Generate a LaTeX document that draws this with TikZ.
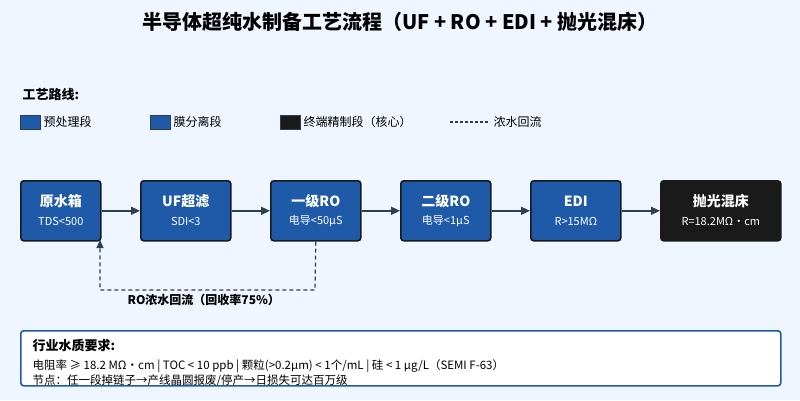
\documentclass[tikz,border=0pt]{standalone}
\usepackage{fontspec}
\setmainfont{Noto Sans CJK SC}
\usetikzlibrary{arrows.meta}
\definecolor{bg}{HTML}{F0F6FF}
\definecolor{bl}{HTML}{1E5AA8}
\definecolor{dk}{HTML}{1A1A1A}
\definecolor{ln}{HTML}{2C3E50}
\begin{document}
\begin{tikzpicture}[x=1pt,y=-1pt,
 box/.style={draw=dk,line width=1.6pt,rounded corners=3pt,fill=bl,text=white,align=center,anchor=north west,inner sep=0pt},
 arr/.style={draw=ln,line width=1.6pt,-{Triangle[length=9pt,width=8pt]}},
 leg/.style={draw=ln,line width=0.8pt,minimum width=20pt,minimum height=14pt,inner sep=0pt,anchor=west},
 lt/.style={font=\fontsize{12}{14}\selectfont,text=black,anchor=west}]
\fill[bg] (0,0) rectangle (800,400);
\useasboundingbox (0,0) rectangle (800,400);
\node[font=\fontsize{20}{24}\selectfont\bfseries] (title) at (400,22) {半导体超纯水制备工艺流程（UF + RO + EDI + 抛光混床）};
\node[font=\fontsize{13}{15}\selectfont\bfseries,anchor=west] (route) at (19,95) {工艺路线:};
\node[leg,fill=bl] (l1) at (20,122) {};
\node[lt] (t1) at (40,122) {预处理段};
\node[leg,fill=bl] (l2) at (150,122) {};
\node[lt] (t2) at (170,122) {膜分离段};
\node[leg,fill=dk] (l3) at (280,122) {};
\node[lt] (t3) at (300,122) {终端精制段（核心）};
\coordinate (d1) at (450,122); \coordinate (d2) at (490,122);
\draw[ln,line width=1.4pt,dash pattern=on 3pt off 2pt] (d1) -- (d2);
\node[lt] (t4) at (490,122) {浓水回流};
\newcommand{\bx}[6]{\node[box,minimum width=#3pt,minimum height=60pt,#6] (#1) at (#2,180) {};
 \node[text=white,font=\fontsize{14}{16}\selectfont\bfseries] at ([yshift=-21pt]#1.north) {#4};
 \node[text=white,font=\fontsize{11}{13}\selectfont] at ([yshift=-41pt]#1.north) {#5};}
\bx{a}{20}{80}{原水箱}{TDS<500}{}
\bx{b}{140}{90}{UF超滤}{SDI<3}{}
\bx{c}{270}{90}{一级RO}{电导<50μS}{}
\bx{d}{400}{90}{二级RO}{电导<1μS}{}
\bx{e}{530}{90}{EDI}{R>15MΩ}{}
\bx{f}{660}{120}{抛光混床}{R=18.2MΩ·cm}{fill=dk}
\draw[arr] (a.east) -- (b.west);
\draw[arr] (b.east) -- (c.west);
\draw[arr] (c.east) -- (d.west);
\draw[arr] (d.east) -- (e.west);
\draw[arr] (e.east) -- (f.west);
\draw[draw=ln,line width=1.2pt,dash pattern=on 4pt off 3pt,-{Triangle[length=8pt,width=7pt]}] (c.south) -- (315,290) -- (100,290) -- (100,240);
\node[font=\fontsize{12}{14}\selectfont\bfseries,anchor=west] (rl) at (124,300) {RO浓水回流（回收率75\%）};
\node[draw=bl,line width=1.6pt,fill=white,rounded corners=3pt,minimum width=760pt,minimum height=55pt,anchor=north west] (req) at (20,330) {};
\node[font=\fontsize{13}{15}\selectfont\bfseries,anchor=west] (rh) at (29,345) {行业水质要求:};
\node[font=\fontsize{11.5}{13}\selectfont,anchor=west] (r1) at (29,366) {电阻率 ≥ 18.2 MΩ·cm | TOC < 10 ppb | 颗粒(>0.2μm) < 1个/mL | 硅 < 1 μg/L（SEMI F-63）};
\begin{scope}
\clip (20,330) rectangle (780,384);
\node[font=\fontsize{11.5}{13}\selectfont,anchor=west] (r2) at (29,381) {节点：任一段掉链子→产线晶圆报废/停产→日损失可达百万级};
\end{scope}
\end{tikzpicture}
\end{document}
